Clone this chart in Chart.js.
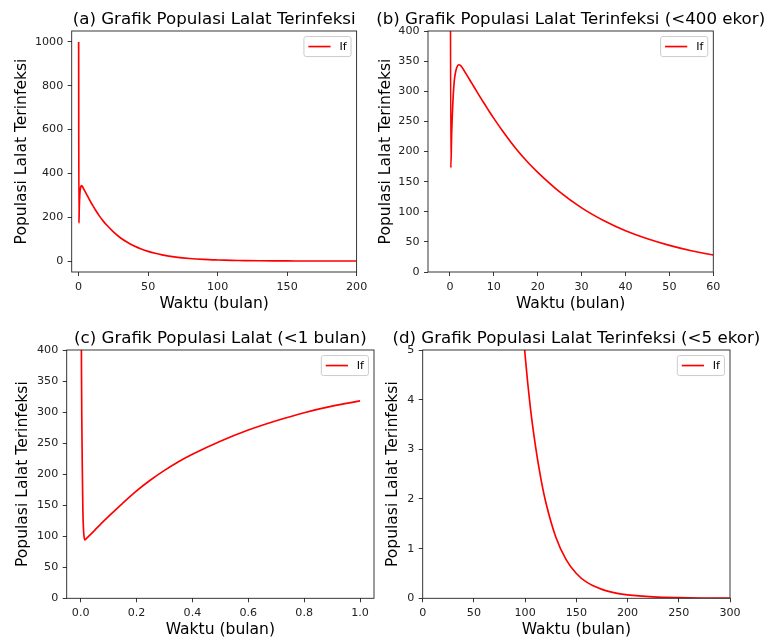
<!DOCTYPE html>
<html>
<head>
<meta charset="utf-8">
<title>Grafik Populasi Lalat Terinfeksi</title>
<script src="https://cdn.jsdelivr.net/npm/chart.js@4.4.1/dist/chart.umd.min.js"></script>
<style>
  html, body { margin: 0; padding: 0; background: #fff; }
  #figur { position: relative; width: 771px; height: 643px; }
  #figur canvas { position: absolute; left: 0; top: 0; }
</style>
</head>
<body>
<div id="figur">
  <canvas id="grafikA" width="771" height="643"></canvas>
  <canvas id="grafikB" width="771" height="643"></canvas>
  <canvas id="grafikC" width="771" height="643"></canvas>
  <canvas id="grafikD" width="771" height="643"></canvas>
</div>
<script>
// If (lalat terinfeksi) terhadap waktu, 0 - 300 bulan
const waktu = [0, 0.2, 0.4, 0.6, 0.8, 1, 1.2, 1.5, 2, 2.5, 3, 3.5, 4, 5, 6, 7, 8, 9, 10, 12, 15, 18, 20,
  25, 30, 35, 40, 45, 50, 55, 60, 70, 80, 90, 100, 105, 110, 115, 120, 130, 140, 150, 160,
  175, 190, 200, 225, 250, 275, 300];
const populasiIf = [1000, 173, 232, 271, 299, 318, 328.5, 338, 344, 342, 337, 331, 325, 313, 301, 289, 277.5, 266, 255, 234, 205, 180, 165.5,
  133, 106.5, 85.5, 68.5, 55.2, 44.2, 35.3, 28.3, 18.2, 11.7, 7.55, 4.89, 3.86, 3.08, 2.45, 1.95, 1.23, 0.78, 0.5, 0.325,
  0.18, 0.1, 0.07, 0.03, 0.013, 0.006, 0.003];

// bulan pertama, langkah waktu lebih rapat
const waktuAwal = [0, 0.001, 0.002, 0.003, 0.004, 0.006, 0.008, 0.01, 0.012, 0.015, 0.02, 0.03, 0.05, 0.075,
  0.1, 0.15, 0.2, 0.25, 0.3, 0.35, 0.4, 0.5, 0.6, 0.7, 0.8, 0.9, 1];
const populasiIfAwal = [1000, 640, 470, 360, 290, 205, 140, 112, 100, 94, 96, 100.5, 109.5, 121,
  132, 153, 173, 190.5, 206, 220, 232, 253, 271, 286, 299, 309.5, 318];

// tick tiap subplot
const tickXA = [0, 50, 100, 150, 200];
const tickYA = [0, 200, 400, 600, 800, 1000];
const tickXB = [0, 10, 20, 30, 40, 50, 60];
const tickYB = [0, 50, 100, 150, 200, 250, 300, 350, 400];
const tickXC = [0, 0.2, 0.4, 0.6, 0.8, 1.0];
const tickYC = [0, 50, 100, 150, 200, 250, 300, 350, 400];
const tickXD = [0, 50, 100, 150, 200, 250, 300];
const tickYD = [0, 1, 2, 3, 4, 5];

const FONT = "'DejaVu Sans', sans-serif";
const LEBAR = 771, TINGGI = 643;
const ukuranJudul = 16.67, ukuranLabel = 15.56, ukuranTick = 11.1;
const setengahBaris = ukuranLabel * 1.2 / 2;

Chart.defaults.font.family = FONT;
Chart.defaults.color = '#222';

// bingkai sumbu (4 sisi)
const bingkai = {
  id: 'bingkai',
  afterDraw(chart) {
    const {ctx, chartArea: a} = chart;
    ctx.save();
    ctx.strokeStyle = '#222';
    ctx.lineWidth = 0.9;
    ctx.strokeRect(a.left, a.top, a.right - a.left, a.bottom - a.top);
    ctx.restore();
  }
};

// legenda di pojok kanan atas area plot
const legendaDalam = {
  id: 'legendaDalam',
  afterDraw(chart) {
    const {ctx, chartArea: a} = chart;
    const ds = chart.data.datasets[0];
    const fs = ukuranTick;
    ctx.save();
    ctx.font = fs + 'px ' + FONT;
    const lebarTeks = ctx.measureText(ds.label).width;
    const pad = 0.4 * fs, panjang = 2 * fs, jarak = 0.8 * fs, tepi = 0.5 * fs;
    const w = pad + panjang + jarak + lebarTeks + pad;
    const h = 20;
    const x = a.right - tepi - w, y = a.top + tepi;
    ctx.beginPath();
    ctx.roundRect(x, y, w, h, 2.2);
    ctx.fillStyle = 'rgba(255,255,255,0.8)';
    ctx.fill();
    ctx.strokeStyle = '#cccccc';
    ctx.lineWidth = 1;
    ctx.stroke();
    ctx.beginPath();
    ctx.moveTo(x + pad, y + h / 2);
    ctx.lineTo(x + pad + panjang, y + h / 2);
    ctx.strokeStyle = ds.borderColor;
    ctx.lineWidth = ds.borderWidth;
    ctx.stroke();
    ctx.fillStyle = '#000';
    ctx.textAlign = 'left';
    ctx.textBaseline = 'middle';
    ctx.fillText(ds.label, x + pad + panjang + jarak, y + h / 2 + 0.5);
    ctx.restore();
  }
};

// judul subplot, di tengah area plot
const judulPanel = {
  id: 'judulPanel',
  afterDraw(chart, args, opts) {
    const {ctx, chartArea: a} = chart;
    ctx.save();
    ctx.font = ukuranJudul + 'px ' + FONT;
    ctx.fillStyle = '#000';
    ctx.textAlign = 'center';
    ctx.textBaseline = 'alphabetic';
    ctx.fillText(opts.teks, (a.left + a.right) / 2, a.top - 6.7);
    ctx.restore();
  }
};

function sumbu(min, max, ticks, desimal) {
  return {
    type: 'linear',
    min: min,
    max: max,
    afterBuildTicks: (s) => { s.ticks = ticks.map(v => ({value: v})); },
    ticks: {
      font: {size: ukuranTick},
      color: '#222',
      padding: 4.5,
      maxRotation: 0,
      autoSkip: false,
      callback: (v) => desimal ? Number(v).toFixed(1) : String(v)
    },
    grid: {drawOnChartArea: false, drawTicks: true, tickLength: 4, tickWidth: 0.9, color: '#222'},
    border: {display: false},
    title: {
      display: true,
      font: {size: ukuranLabel, lineHeight: 1.2},
      color: '#000',
      padding: 0
    }
  };
}

function buatGrafik(id, p) {
  const sx = sumbu(p.xMin, p.xMax, p.tickX, p.desimalX);
  sx.title.text = 'Waktu (bulan)';
  sx.afterFit = (s) => { s.height = p.judulX + setengahBaris - p.area.bottom; };
  const sy = sumbu(p.yMin, p.yMax, p.tickY, false);
  sy.title.text = 'Populasi Lalat Terinfeksi';
  sy.afterFit = (s) => { s.width = p.area.left - (p.judulY - setengahBaris); };

  return new Chart(document.getElementById(id), {
    type: 'scatter',
    data: {
      datasets: [{
        label: 'If',
        data: p.t.map((t, i) => ({x: t, y: p.v[i]})),
        showLine: true,
        borderColor: '#ff0000',
        borderWidth: 1.67,
        pointRadius: 0,
        cubicInterpolationMode: 'monotone',
        clip: 0
      }]
    },
    options: {
      responsive: false,
      animation: false,
      devicePixelRatio: 1,
      events: [],
      layout: {
        padding: {
          left: p.judulY - setengahBaris,
          top: p.area.top,
          right: LEBAR - p.area.right,
          bottom: TINGGI - (p.judulX + setengahBaris)
        }
      },
      scales: {x: sx, y: sy},
      plugins: {
        legend: {display: false},
        tooltip: {enabled: false},
        judulPanel: {teks: p.judul}
      }
    },
    plugins: [bingkai, legendaDalam, judulPanel]
  });
}

buatGrafik('grafikA', {
  judul: '(a) Grafik Populasi Lalat Terinfeksi',
  t: waktu, v: populasiIf,
  xMin: -5, xMax: 200, yMin: -50, yMax: 1050,
  tickX: tickXA, tickY: tickYA,
  area: {left: 71.7, top: 31, right: 356.6, bottom: 272},
  judulY: 21.7, judulX: 303.5
});

buatGrafik('grafikB', {
  judul: '(b) Grafik Populasi Lalat Terinfeksi (<400 ekor)',
  t: waktu, v: populasiIf,
  xMin: -5, xMax: 60, yMin: 0, yMax: 400,
  tickX: tickXB, tickY: tickYB,
  area: {left: 428, top: 31, right: 713.3, bottom: 272},
  judulY: 385.5, judulX: 303.5
});

buatGrafik('grafikC', {
  judul: '(c) Grafik Populasi Lalat (<1 bulan)',
  t: waktuAwal, v: populasiIfAwal,
  xMin: -0.05, xMax: 1.05, yMin: 0, yMax: 400,
  tickX: tickXC, tickY: tickYC, desimalX: true,
  area: {left: 66.7, top: 350, right: 374, bottom: 598.3},
  judulY: 22.5, judulX: 630
});

buatGrafik('grafikD', {
  judul: '(d) Grafik Populasi Lalat Terinfeksi (<5 ekor)',
  t: waktu, v: populasiIf,
  xMin: 0, xMax: 300, yMin: 0, yMax: 5,
  tickX: tickXD, tickY: tickYD,
  area: {left: 422.7, top: 350, right: 730, bottom: 598.3},
  judulY: 392.5, judulX: 630
});
</script>
</body>
</html>
